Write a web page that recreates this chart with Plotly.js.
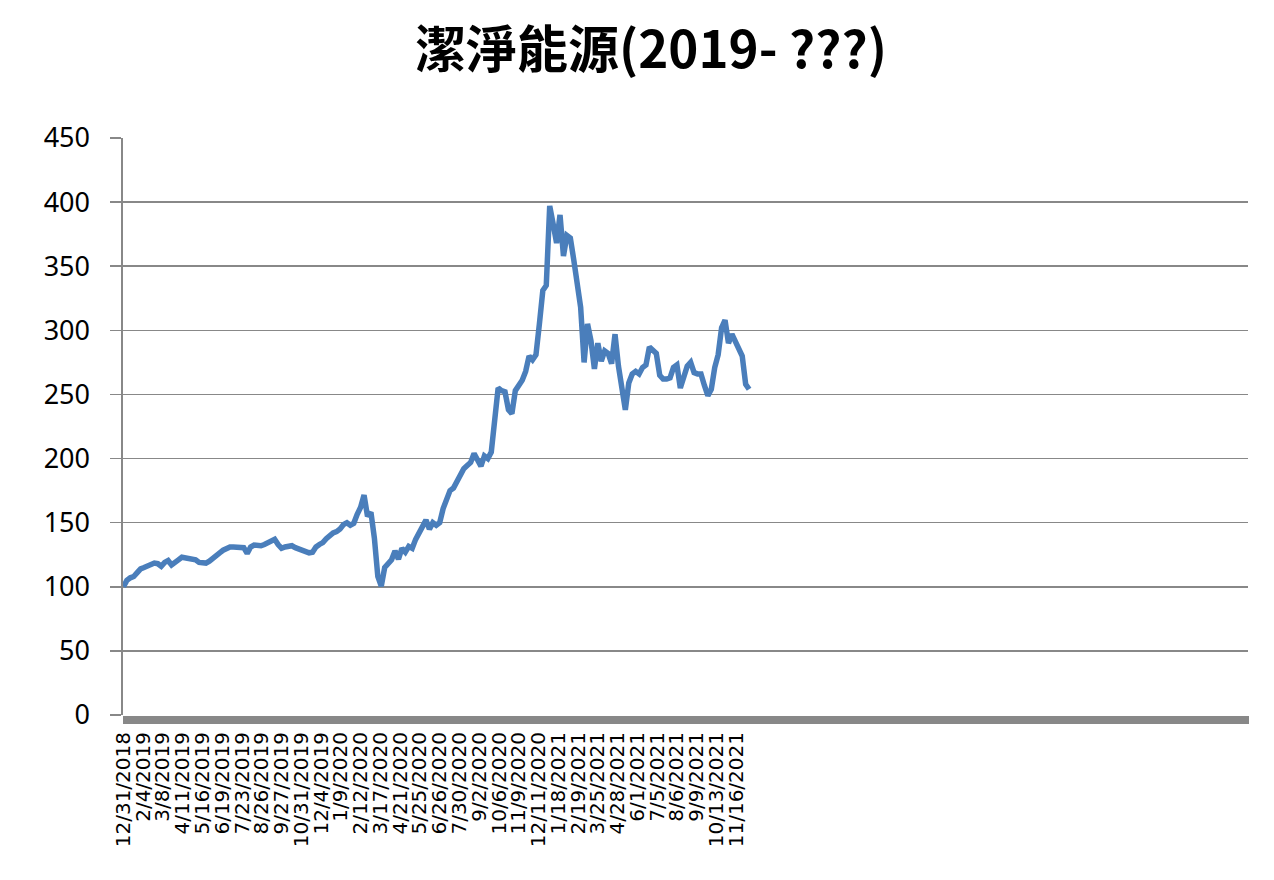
<!DOCTYPE html>
<html>
<head>
<meta charset="utf-8">
<script src="https://cdn.plot.ly/plotly-3.0.1.min.js"></script>
<style>
  html, body { margin: 0; padding: 0; background: #fff; }
  #chart { width: 1274px; height: 880px; }
</style>
</head>
<body>
<div id="chart"></div>
<script>
// tick labels shown under the category axis (every 23rd trading day)
const tickLabels = [
    "12/31/2018", "2/4/2019", "3/8/2019", "4/11/2019", "5/16/2019", "6/19/2019",
    "7/23/2019", "8/26/2019", "9/27/2019", "10/31/2019", "12/4/2019", "1/9/2020",
    "2/12/2020", "3/17/2020", "4/21/2020", "5/25/2020", "6/26/2020", "7/30/2020",
    "9/2/2020", "10/6/2020", "11/9/2020", "12/11/2020", "1/18/2021", "2/19/2021",
    "3/25/2021", "4/28/2021", "6/1/2021", "7/5/2021", "8/6/2021", "9/9/2021",
    "10/13/2021", "11/16/2021"
];
const labelEvery = 23;      // trading days between labels
const totalRows = 1309;     // rows on the sheet (axis runs past the data)
const sampleEvery = 4;

// price, one value per 4 trading days starting 12/31/2018
const price = [
    100, 105, 107, 108, 111, 114, 115, 116, 118, 118.5,
    118, 116, 119, 120.5, 117, 118.5, 121, 123, 122.5, 122.5,
    122, 121, 119, 118.5, 118.5, 120, 122.5, 125, 126.5, 128.5,
    130, 131, 131, 131, 131, 130.5, 126, 131, 132.5, 132,
    132, 133, 134, 135, 137, 133, 130, 131, 132, 132,
    130.5, 129.5, 127.5, 126.5, 126.5, 127, 131, 133, 134.5, 137.5,
    140.5, 142, 143, 145, 148.5, 150, 148, 149.5, 156.5, 162,
    171.5, 155, 158, 138, 108, 100.5, 115, 118, 121, 128,
    121.5, 130, 127, 131.5, 130, 137, 142, 149, 152, 145,
    150, 148, 150, 161, 167, 175, 177, 182, 188, 192,
    194.5, 197, 204, 198, 194, 202, 200, 205, 230, 255,
    253, 252, 238, 235, 253, 257, 261, 268, 280, 277,
    281, 305, 331, 335, 397, 383, 368, 390, 358, 374,
    372, 355, 338, 318, 275, 305, 292, 270, 290, 276,
    284, 282, 274, 297, 272, 251, 238, 259, 266, 268,
    266, 271, 273, 287, 284, 282, 265, 262, 262, 263,
    271, 273, 255, 263, 272, 275, 267, 266, 266, 257,
    249, 254, 271, 281, 302, 308, 290, 297, 291, 284,
    280, 258, 254
];

const rowIdx = price.map((_, i) => i * sampleEvery);
const tickPos = tickLabels.map((_, i) => i * labelEvery);

const gridGray = "#888888";

const trace = {
    x: rowIdx,
    y: price,
    type: "scatter",
    mode: "lines",
    line: { color: "#4a7ebb", width: 5.5, shape: "linear" },
    hoverinfo: "y"
};

const layout = {
    width: 1274,
    height: 880,
    paper_bgcolor: "#fff",
    plot_bgcolor: "#fff",
    margin: { l: 123, r: 26, t: 138, b: 165 },
    showlegend: false,
    title: {
        text: "<b>潔淨能源(2019- ???)</b>",
        font: { family: "Noto Sans CJK TC", size: 51, color: "#000" },
        xref: "container", x: 0.511, xanchor: "center",
        yref: "container", y: 0.943, yanchor: "middle"
    },
    xaxis: {
        range: [-0.5, totalRows - 0.5],
        tickmode: "array",
        tickvals: tickPos,
        ticktext: tickLabels,
        tickangle: -90,
        ticks: "outside",
        ticklen: 8,
        tickcolor: gridGray,
        tickfont: { family: "DejaVu Sans", size: 20, color: "#000" },
        minor: { dtick: 1, tick0: -0.5, ticks: "outside", ticklen: 8, tickcolor: gridGray, tickwidth: 1, showgrid: false },
        showgrid: false,
        zeroline: false,
        showline: false,
        fixedrange: true
    },
    yaxis: {
        range: [0, 450],
        dtick: 50,
        tick0: 0,
        ticks: "outside",
        ticklen: 11,
        tickwidth: 1.6,
        tickcolor: gridGray,
        ticklabelstandoff: 15,
        tickfont: { family: "Noto Sans", size: 27, color: "#000" },
        showgrid: true,
        gridcolor: gridGray,
        gridwidth: 1.6,
        zeroline: false,
        showline: true,
        linecolor: gridGray,
        linewidth: 1.6,
        fixedrange: true
    }
};

Plotly.newPlot("chart", [trace], layout, { displayModeBar: false, staticPlot: true });
</script>
</body>
</html>
